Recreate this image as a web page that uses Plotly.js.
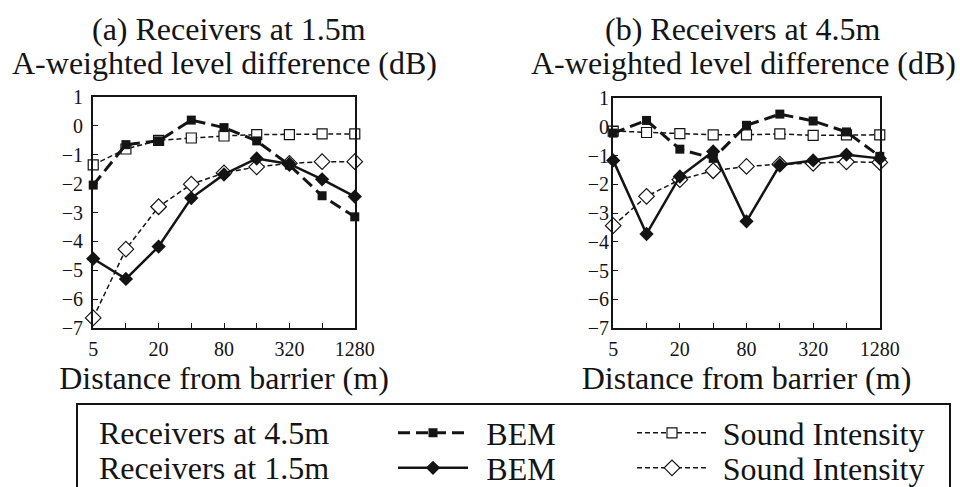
<!DOCTYPE html>
<html>
<head>
<meta charset="utf-8">
<script src="https://cdn.plot.ly/plotly-3.0.1.min.js"></script>
<style>html,body{margin:0;padding:0;background:#fff;}#chart{width:960px;height:487px;}</style>
</head>
<body>
<div id="chart"></div>
<script>
// Distances from barrier (m)
var distances = [5, 10, 20, 40, 80, 160, 320, 640, 1280];
var tickVals = [5, 10, 20, 40, 80, 160, 320, 640, 1280];
var tickText = ['5', '', '20', '', '80', '', '320', '', '1280'];
var yTickVals = [1, 0, -1, -2, -3, -4, -5, -6, -7];

// Panel (a)
var aBem45 = [-2.05, -0.65, -0.52, 0.2, -0.06, -0.52, -1.36, -2.42, -3.15];
var aSi45  = [-1.35, -0.8, -0.5, -0.42, -0.35, -0.3, -0.3, -0.28, -0.28];
var aBem15 = [-4.6, -5.3, -4.18, -2.5, -1.68, -1.13, -1.32, -1.85, -2.45];
var aSi15  = [-6.65, -4.27, -2.8, -2.02, -1.63, -1.42, -1.3, -1.24, -1.24];

// Panel (b)
var bBem45 = [-0.22, 0.22, -0.78, -1.1, 0.05, 0.44, 0.2, -0.18, -1.03];
var bSi45  = [-0.15, -0.2, -0.24, -0.28, -0.28, -0.25, -0.3, -0.28, -0.28];
var bBem15 = [-1.17, -3.73, -1.73, -0.86, -3.29, -1.33, -1.17, -0.97, -1.1];
var bSi15  = [-3.44, -2.42, -1.84, -1.53, -1.38, -1.3, -1.27, -1.22, -1.24];

var INK = '#141414';
var FONT = '"Liberation Serif", "Times New Roman", serif';

var styles = {
  bem45: {line: {color: INK, width: 3, dash: '12px,6px'}, marker: {symbol: 'square', size: 9, color: INK}},
  si45:  {line: {color: INK, width: 1.5, dash: '5px,3px'}, marker: {symbol: 'square', size: 10, color: '#ffffff', line: {color: INK, width: 1.2}}},
  bem15: {line: {color: INK, width: 2.5}, marker: {symbol: 'diamond', size: 11, color: INK}},
  si15:  {line: {color: INK, width: 1.5, dash: '5px,3px'}, marker: {symbol: 'diamond', size: 12, color: '#ffffff', line: {color: INK, width: 1.2}}}
};

function tr(y, key, xa, ya, name, legend, show) {
  return {
    x: distances, y: y, xaxis: xa, yaxis: ya, type: 'scatter', mode: 'lines+markers',
    name: name, legend: legend, showlegend: show, cliponaxis: false,
    line: styles[key].line, marker: styles[key].marker, hoverinfo: 'x+y'
  };
}
var BEM_NAME = '\u2005\u2006BEM';
var SI_NAME = '\u2004Sound Intensity';
var data = [
  tr(aSi45, 'si45', 'x', 'y', SI_NAME, 'legend3', true),
  tr(aSi15, 'si15', 'x', 'y', SI_NAME, 'legend4', true),
  tr(aBem45, 'bem45', 'x', 'y', BEM_NAME, 'legend', true),
  tr(aBem15, 'bem15', 'x', 'y', BEM_NAME, 'legend2', true),
  tr(bSi45, 'si45', 'x2', 'y2', SI_NAME, 'legend3', false),
  tr(bSi15, 'si15', 'x2', 'y2', SI_NAME, 'legend4', false),
  tr(bBem45, 'bem45', 'x2', 'y2', BEM_NAME, 'legend', false),
  tr(bBem15, 'bem15', 'x2', 'y2', BEM_NAME, 'legend2', false)
];

var EPS = 0.002;
function xax(domain, anchor) {
  return {
    type: 'log', domain: domain, anchor: anchor, range: [Math.log10(5) - EPS, Math.log10(1280) + EPS],
    tickmode: 'array', tickvals: tickVals, ticktext: tickText, ticks: 'inside', ticklen: 5,
    tickcolor: INK, tickwidth: 1, showline: true, linecolor: INK, linewidth: 2, mirror: true,
    showgrid: false, zeroline: false, tickfont: {family: FONT, size: 20, color: INK}, ticklabelstandoff: 2,
    title: {text: 'Distance from barrier (m)', font: {family: FONT, size: 32, color: INK}, standoff: 0},
    automargin: false, fixedrange: true
  };
}
function yax(domain, anchor, standoff) {
  return {
    domain: domain, anchor: anchor, range: [-7, 1], tickmode: 'array', tickvals: yTickVals,
    ticks: 'inside', ticklen: 5, tickcolor: INK, tickwidth: 1, showline: true, linecolor: INK,
    linewidth: 2, mirror: true, showgrid: false, zeroline: false,
    tickfont: {family: FONT, size: 20, color: INK}, ticklabelstandoff: standoff, automargin: false, fixedrange: true
  };
}

function ann(text, xpx, ypx, anchor) {
  return {text: text, xref: 'paper', yref: 'paper', x: xpx / 960, y: 1 - ypx / 487,
    xanchor: anchor || 'center', yanchor: 'middle', showarrow: false,
    font: {family: FONT, size: 32, color: INK}};
}
function leg(xpx, ypx) {
  return {orientation: 'h', x: xpx / 960, y: 1 - ypx / 487, xanchor: 'left', yanchor: 'middle',
    itemwidth: 70, font: {family: FONT, size: 32, color: INK}, bgcolor: 'rgba(0,0,0,0)',
    borderwidth: 0, itemclick: false, itemdoubleclick: false};
}

var layout = {
  width: 960, height: 487, margin: {l: 0, r: 0, t: 0, b: 0, pad: 0, autoexpand: false},
  paper_bgcolor: '#fff', plot_bgcolor: '#fff', showlegend: true,
  font: {family: FONT, color: INK},
  xaxis: xax([93 / 960, 355 / 960], 'y'),
  yaxis: yax([1 - 328 / 487, 1 - 97 / 487], 'x', 4),
  xaxis2: xax([613 / 960, 880 / 960], 'y2'),
  yaxis2: yax([1 - 328 / 487, 1 - 98 / 487], 'x2', -2),
  legend: leg(393, 433),
  legend2: leg(393, 468),
  legend3: leg(632, 433),
  legend4: leg(632, 468),
  shapes: [
    {type: 'rect', xref: 'paper', yref: 'paper', x0: 77 / 960, x1: 950 / 960, y0: 1 - 404 / 487, y1: -0.1,
      line: {color: INK, width: 2}, fillcolor: 'rgba(0,0,0,0)', layer: 'below'}
  ],
  annotations: [
    ann('(a) Receivers at 1.5m', 229, 29),
    ann('A-weighted level difference (dB)', 224, 63),
    ann('(b) Receivers at 4.5m', 743, 29),
    ann('A-weighted level difference (dB)', 743, 63),
    ann('Receivers at 4.5m', 97, 433, 'left'),
    ann('Receivers at 1.5m', 97, 468, 'left')
  ]
};

Plotly.newPlot('chart', data, layout, {staticPlot: true, displayModeBar: false});
</script>
</body>
</html>
